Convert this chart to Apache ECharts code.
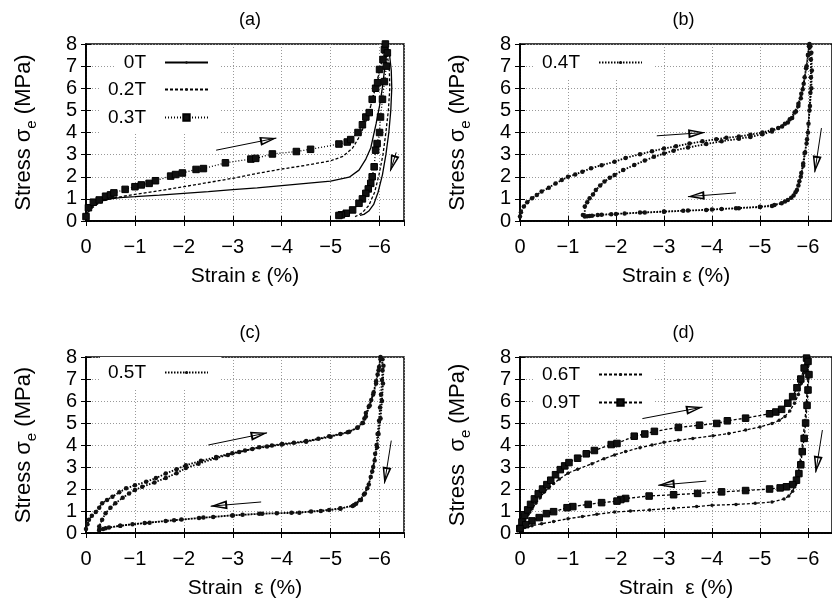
<!DOCTYPE html>
<html>

<head>
    <meta charset="UTF-8" />
    <script src="https://cdn.jsdelivr.net/npm/echarts@6/dist/echarts.min.js"></script>
</head>

<body style="margin: 0; overflow: hidden; background: #fff;">
    <div id="chart" style="width: 832px; height: 606px;"></div>
    <script type="text/javascript">

        // strain (%) / stress (MPa), loading then unloading
        const s0T = [[0, 0.2], [-0.05, 0.45], [-0.12, 0.65], [-0.22, 0.8], [-0.35, 0.92], [-0.5, 1.0], [-0.7, 1.06], [-1, 1.1], [-1.5, 1.17], [-2, 1.25], [-2.5, 1.33], [-3, 1.42], [-3.5, 1.5], [-4, 1.6], [-4.5, 1.7], [-5, 1.8], [-5.38, 1.98], [-5.58, 2.3], [-5.72, 2.8], [-5.82, 3.3], [-5.93, 4.4], [-6.0, 5.2], [-6.05, 5.9], [-6.1, 6.8], [-6.13, 7.4], [-6.15, 8.0],
            [-6.2, 7.6], [-6.24, 6.8], [-6.25, 6.0], [-6.23, 5.0], [-6.19, 4.0], [-6.13, 3.0], [-6.06, 2.1], [-5.97, 1.3], [-5.88, 0.75], [-5.78, 0.45], [-5.68, 0.3], [-5.6, 0.25]];
        const s02T = [[0, 0.2], [-0.08, 0.5], [-0.2, 0.72], [-0.35, 0.9], [-0.55, 1.03], [-0.8, 1.13], [-1, 1.2], [-1.5, 1.37], [-2, 1.55], [-2.5, 1.74], [-3, 1.93], [-3.5, 2.15], [-4, 2.35], [-4.5, 2.52], [-5, 2.72], [-5.25, 2.92], [-5.45, 3.3], [-5.6, 3.85], [-5.72, 4.5], [-5.82, 5.2], [-5.9, 5.9], [-5.98, 6.6], [-6.05, 7.3], [-6.1, 8.0],
            [-6.16, 7.5], [-6.2, 6.8], [-6.21, 6.0], [-6.18, 5.0], [-6.13, 4.0], [-6.07, 3.0], [-5.99, 2.1], [-5.9, 1.3], [-5.78, 0.7], [-5.65, 0.38], [-5.55, 0.25], [-5.5, 0.2]];
        const s03T = [[0, 0.2], [-0.05, 0.6], [-0.15, 0.85], [-0.27, 0.95], [-0.4, 1.12], [-0.5, 1.18], [-0.57, 1.27], [-0.8, 1.43], [-1.0, 1.55], [-1.13, 1.63], [-1.29, 1.7], [-1.42, 1.82], [-1.73, 2.03], [-1.83, 2.1], [-1.97, 2.17], [-2.25, 2.33], [-2.4, 2.37], [-2.85, 2.63], [-3.37, 2.8], [-3.47, 2.83], [-3.81, 3.03], [-4.3, 3.14], [-4.59, 3.24], [-5.17, 3.48], [-5.34, 3.57], [-5.41, 3.68], [-5.56, 4.0], [-5.65, 4.35], [-5.72, 4.7], [-5.79, 4.9], [-5.85, 5.5], [-5.92, 6.0], [-5.96, 6.25], [-6.0, 6.85], [-6.07, 7.3], [-6.1, 7.75], [-6.12, 8.0],
            [-6.16, 7.6], [-6.14, 7.0], [-6.1, 6.3], [-6.06, 5.5], [-6.02, 4.7], [-6.0, 4.0], [-5.95, 3.5], [-5.92, 3.2], [-5.89, 2.45], [-5.85, 2.0], [-5.82, 1.7], [-5.77, 1.45], [-5.72, 1.25], [-5.65, 1.0], [-5.58, 0.8], [-5.45, 0.5], [-5.32, 0.35], [-5.22, 0.28], [-5.17, 0.25]];
        const s04T = [[0, 0.2], [-0.02, 0.4], [-0.08, 0.65], [-0.15, 0.85], [-0.25, 1.03], [-0.35, 1.18], [-0.45, 1.33], [-0.6, 1.5], [-0.74, 1.7], [-0.87, 1.85], [-1, 2.0], [-1.15, 2.1], [-1.3, 2.23], [-1.48, 2.38], [-1.7, 2.52], [-1.97, 2.68], [-2.2, 2.85], [-2.5, 3.02], [-2.75, 3.15], [-3, 3.28], [-3.25, 3.38], [-3.53, 3.5], [-3.8, 3.6], [-4.09, 3.7], [-4.3, 3.76], [-4.56, 3.82], [-4.8, 3.9], [-5.05, 4.0], [-5.25, 4.12], [-5.46, 4.27], [-5.58, 4.45], [-5.67, 4.65], [-5.75, 4.95], [-5.8, 5.2], [-5.85, 5.55], [-5.89, 5.95], [-5.93, 6.5], [-5.97, 7.0], [-6.0, 7.5], [-6.02, 7.9],
            [-6.05, 7.9], [-6.06, 7.3], [-6.06, 6.5], [-6.05, 5.8], [-6.03, 5.0], [-6.0, 4.0], [-5.97, 3.5], [-5.93, 3.07], [-5.9, 2.6], [-5.86, 2.17], [-5.82, 1.8], [-5.77, 1.4], [-5.7, 1.15], [-5.58, 0.95], [-5.45, 0.8], [-5.25, 0.68], [-5.0, 0.63], [-4.56, 0.58], [-4.2, 0.54], [-3.88, 0.5], [-3.4, 0.46], [-3.0, 0.42], [-2.6, 0.38], [-2.18, 0.34], [-1.9, 0.31], [-1.62, 0.27], [-1.45, 0.23], [-1.35, 0.2],
            [-1.31, 0.27], [-1.35, 0.65], [-1.4, 0.85], [-1.45, 1.03], [-1.52, 1.2], [-1.58, 1.4], [-1.67, 1.6], [-1.76, 1.78], [-1.87, 1.95], [-1.97, 2.08], [-2.15, 2.3], [-2.38, 2.53], [-2.6, 2.73], [-2.79, 2.9], [-3.0, 3.05], [-3.2, 3.18], [-3.5, 3.32], [-3.88, 3.48], [-4.2, 3.6], [-4.56, 3.72], [-4.8, 3.8], [-5.05, 3.92], [-5.25, 4.05], [-5.38, 4.2], [-5.52, 4.4], [-5.62, 4.6], [-5.72, 4.9], [-5.8, 5.3], [-5.86, 5.75], [-5.91, 6.2], [-5.96, 6.9], [-6.0, 7.5], [-6.03, 8.0],
            [-6.07, 7.6], [-6.08, 6.8], [-6.07, 6.0], [-6.04, 5.2], [-6.01, 4.4], [-5.98, 3.7], [-5.94, 3.1], [-5.9, 2.5], [-5.85, 2.0], [-5.8, 1.6], [-5.74, 1.3], [-5.65, 1.05], [-5.52, 0.88], [-5.3, 0.72], [-5.0, 0.64], [-4.5, 0.58], [-4.0, 0.52], [-3.5, 0.47], [-3.0, 0.43], [-2.5, 0.38], [-2.0, 0.32], [-1.7, 0.28], [-1.5, 0.24], [-1.4, 0.22]];
        const s05T = [[0, 0.18], [-0.03, 0.4], [-0.06, 0.6], [-0.12, 0.78], [-0.2, 0.95], [-0.27, 1.15], [-0.33, 1.35], [-0.43, 1.5], [-0.54, 1.65], [-0.68, 1.85], [-0.82, 2.03], [-1.0, 2.17], [-1.23, 2.33], [-1.43, 2.5], [-1.63, 2.7], [-1.85, 2.9], [-2.04, 3.08], [-2.35, 3.28], [-2.66, 3.45], [-2.99, 3.63], [-3.25, 3.75], [-3.54, 3.9], [-3.8, 3.98], [-4.01, 4.05], [-4.25, 4.1], [-4.5, 4.18], [-4.75, 4.28], [-4.97, 4.4], [-5.2, 4.5], [-5.38, 4.6], [-5.55, 4.8], [-5.65, 5.0], [-5.69, 5.2], [-5.72, 5.45], [-5.78, 5.75], [-5.83, 6.05], [-5.88, 6.4], [-5.93, 6.8], [-5.96, 7.2], [-5.99, 7.55], [-6.02, 8.0],
            [-6.06, 7.9], [-6.06, 7.4], [-6.05, 6.95], [-6.03, 6.3], [-6.01, 5.7], [-5.99, 5.1], [-5.96, 4.5], [-5.94, 4.0], [-5.91, 3.6], [-5.87, 3.0], [-5.82, 2.55], [-5.75, 2.03], [-5.68, 1.75], [-5.62, 1.5], [-5.52, 1.33], [-5.45, 1.23], [-5.2, 1.12], [-4.97, 1.05], [-4.6, 0.98], [-4.36, 0.92], [-3.9, 0.9], [-3.54, 0.87], [-3.2, 0.83], [-2.99, 0.8], [-2.6, 0.73], [-2.31, 0.68], [-1.95, 0.61], [-1.63, 0.55], [-1.3, 0.47], [-0.95, 0.4], [-0.7, 0.33], [-0.47, 0.25], [-0.35, 0.18], [-0.27, 0.13],
            [-0.27, 0.3], [-0.33, 0.6], [-0.4, 0.9], [-0.5, 1.15], [-0.6, 1.35], [-0.75, 1.6], [-0.88, 1.8], [-1.0, 1.95], [-1.15, 2.1], [-1.4, 2.3], [-1.63, 2.5], [-1.85, 2.72], [-2.04, 2.95], [-2.3, 3.15], [-2.66, 3.4], [-2.9, 3.55], [-3.13, 3.68], [-3.4, 3.82], [-3.7, 3.93], [-4.0, 4.02], [-4.5, 4.15], [-5.0, 4.38], [-5.35, 4.58], [-5.55, 4.78], [-5.66, 5.0], [-5.72, 5.3], [-5.8, 5.8], [-5.87, 6.3], [-5.93, 6.9], [-5.98, 7.4], [-6.02, 7.9],
            [-6.08, 7.6], [-6.07, 6.8], [-6.05, 6.0], [-6.02, 5.2], [-5.98, 4.5], [-5.95, 3.9], [-5.9, 3.3], [-5.85, 2.8], [-5.78, 2.2], [-5.7, 1.8], [-5.6, 1.5], [-5.48, 1.27], [-5.2, 1.1], [-4.8, 1.0], [-4.2, 0.92], [-3.6, 0.88], [-3.0, 0.8], [-2.4, 0.7], [-1.8, 0.58], [-1.2, 0.45], [-0.7, 0.33], [-0.4, 0.22], [-0.27, 0.15]];
        const s06T = [[0, 0.2], [-0.05, 0.4], [-0.1, 0.6], [-0.17, 0.85], [-0.25, 1.1], [-0.33, 1.35], [-0.42, 1.6], [-0.5, 1.85], [-0.6, 2.05], [-0.7, 2.25], [-0.82, 2.45], [-1.0, 2.72], [-1.2, 2.9], [-1.5, 3.15], [-1.75, 3.38], [-1.97, 3.55], [-2.2, 3.7], [-2.5, 3.88], [-2.75, 4.0], [-3.0, 4.12], [-3.3, 4.22], [-3.6, 4.3], [-4.02, 4.42], [-4.35, 4.52], [-4.7, 4.68], [-5.0, 4.82], [-5.25, 4.98], [-5.4, 5.12], [-5.52, 5.3], [-5.62, 5.55], [-5.72, 5.9], [-5.8, 6.3], [-5.86, 6.8], [-5.92, 7.3], [-5.97, 7.85],
            [-6.0, 7.6], [-6.0, 7.0], [-5.98, 6.4], [-5.96, 5.7], [-5.93, 5.0], [-5.9, 4.4], [-5.87, 3.8], [-5.83, 3.2], [-5.79, 2.6], [-5.74, 2.2], [-5.68, 1.9], [-5.6, 1.68], [-5.5, 1.55], [-5.25, 1.41], [-4.9, 1.35], [-4.5, 1.3], [-4.0, 1.26], [-3.68, 1.2], [-3.2, 1.13], [-2.7, 1.05], [-2.3, 1.0], [-1.97, 0.95], [-1.6, 0.85], [-1.3, 0.75], [-1.0, 0.65], [-0.7, 0.52], [-0.45, 0.42], [-0.25, 0.33], [-0.1, 0.25], [0, 0.2]];
        const s09T = [[0, 0.2], [-0.04, 0.5], [-0.1, 0.8], [-0.16, 1.05], [-0.22, 1.3], [-0.3, 1.55], [-0.38, 1.78], [-0.47, 2.0], [-0.56, 2.2], [-0.64, 2.4], [-0.74, 2.65], [-0.84, 2.88], [-0.93, 3.05], [-1.02, 3.2], [-1.2, 3.4], [-1.38, 3.6], [-1.55, 3.75], [-1.9, 4.02], [-2.02, 4.07], [-2.38, 4.4], [-2.6, 4.5], [-2.8, 4.62], [-3.3, 4.8], [-3.74, 4.9], [-4.1, 4.98], [-4.32, 5.1], [-4.7, 5.22], [-5.2, 5.42], [-5.33, 5.5], [-5.45, 5.62], [-5.58, 5.9], [-5.68, 6.2], [-5.77, 6.6], [-5.85, 7.0], [-5.92, 7.5], [-5.97, 7.95],
            [-6.0, 7.8], [-6.02, 7.2], [-6.0, 6.5], [-5.98, 5.8], [-5.95, 5.0], [-5.92, 4.3], [-5.88, 3.7], [-5.85, 3.1], [-5.81, 2.7], [-5.76, 2.4], [-5.68, 2.2], [-5.55, 2.1], [-5.42, 2.05], [-5.2, 2.0], [-4.7, 1.93], [-4.2, 1.87], [-3.7, 1.8], [-3.2, 1.74], [-2.69, 1.68], [-2.2, 1.57], [-2.1, 1.52], [-2.02, 1.45], [-1.7, 1.38], [-1.42, 1.3], [-1.1, 1.2], [-0.98, 1.15], [-0.7, 0.97], [-0.55, 0.88], [-0.4, 0.7], [-0.25, 0.55], [-0.12, 0.38], [0, 0.2]];

        // annotation arrows, [from, to] in data units
        const arrowsA = [[[-2.66, 3.2], [-3.89, 3.75]], [[-6.34, 3.1], [-6.22, 2.25]]];
        const arrowsB = [[[-2.85, 3.85], [-3.85, 4.0]], [[-4.5, 1.27], [-3.5, 1.1]], [[-6.28, 4.2], [-6.14, 2.2]]];
        const arrowsC = [[[-2.5, 4.0], [-3.7, 4.55]], [[-3.58, 1.41], [-2.55, 1.22]], [[-6.24, 4.2], [-6.1, 2.25]]];
        const arrowsD = [[[-2.55, 5.2], [-3.8, 5.72]], [[-3.88, 2.36], [-2.88, 2.17]], [[-6.3, 4.68], [-6.16, 2.75]]];

        const panelTitles = ['(a)', '(b)', '(c)', '(d)'];
        const xNames = ['Strain ε (%)', 'Strain ε (%)', 'Strain  ε (%)', 'Strain  ε (%)'];
        const yNames = ['{t|Stress σ}{s|e}{t| (MPa)}', '{t|Stress σ}{s|e}{t| (MPa)}', '{t|Stress σ}{s|e}{t| (MPa)}', '{t|Stress  σ}{s|e}{t| (MPa)}'];

        const FONT = 'Liberation Sans';
        const grids = [
            { left: 86, top: 44, width: 318, height: 177 },
            { left: 520, top: 44, width: 317, height: 177 },
            { left: 86, top: 357, width: 318, height: 176 },
            { left: 520, top: 357, width: 317, height: 176 }
        ];

        const arrowHead = 'path://M5,0 L10,17 L0,17 Z M5,5 L2.4,15 L7.6,15 Z';

        function arrowMarks(list) {
            return {
                silent: true,
                animation: false,
                label: { show: false },
                lineStyle: { color: '#000', width: 1, type: 'solid' },
                emphasis: { disabled: true },
                data: list.map(a => [
                    { coord: a[0], symbol: 'none' },
                    { coord: a[1], symbol: arrowHead, symbolSize: [9, 17], symbolOffset: [0, 8] }
                ])
            };
        }

        function series(name, data, p, dash, width, symbol, size, showSym) {
            return {
                name: name,
                type: 'line',
                data: data,
                xAxisIndex: p * 2,
                yAxisIndex: p * 2,
                symbol: symbol,
                symbolSize: size,
                showSymbol: showSym,
                lineStyle: { color: '#000', width: width, type: dash },
                itemStyle: { color: '#111', borderColor: '#000', borderWidth: symbol === 'rect' ? 1 : 0 },
                emphasis: { disabled: true },
                animation: false
            };
        }

        function legend(name, iconRight, rowY, symH) {
            return {
                data: [name],
                orient: 'vertical',
                align: 'right',
                right: 832 - iconRight - 12,
                top: rowY - 16,
                padding: [6, 12, 6, 8],
                backgroundColor: '#fff',
                itemWidth: 43,
                itemHeight: symH,
                selectedMode: false,
                textStyle: { fontFamily: FONT, fontSize: 19, color: '#000', width: 54, align: 'right', padding: [0, 14, 0, 0] }
            };
        }

        const xAxes = [], yAxes = [], titles = [];
        grids.forEach((g, p) => {
            titles.push({
                text: panelTitles[p], left: g.left + g.width / 2, top: g.top - 38, textAlign: 'center',
                textStyle: { fontFamily: FONT, fontSize: 18, fontWeight: 'normal', color: '#000' }
            });
            xAxes.push({
                type: 'value', gridIndex: p, position: 'bottom', inverse: true, min: -6.5, max: 0, splitNumber: 6,
                name: xNames[p], nameLocation: 'middle', nameGap: 45,
                nameTextStyle: { fontFamily: FONT, fontSize: 21, color: '#000' },
                axisLine: { lineStyle: { color: '#000', width: 1.5 } },
                axisTick: { inside: true, length: 5, lineStyle: { color: '#000' } },
                axisLabel: {
                    showMinLabel: false, margin: 16, fontFamily: FONT, fontSize: 20, color: '#000',
                    formatter: v => (v % 1 !== 0 ? '' : v === 0 ? '0' : '−' + Math.abs(v))
                },
                splitLine: { show: true, lineStyle: { color: '#999', type: [1, 2], width: 1 } }
            });
            xAxes.push({
                type: 'value', gridIndex: p, position: 'top', inverse: true, min: -6.5, max: 0, splitNumber: 6,
                axisLine: { lineStyle: { color: '#000', width: 1.5 } },
                axisTick: { inside: true, length: 5, lineStyle: { color: '#000' } },
                axisLabel: { show: false }, splitLine: { show: false }
            });
            yAxes.push({
                type: 'value', gridIndex: p, position: 'left', min: 0, max: 8, interval: 1,
                name: yNames[p], nameLocation: 'middle', nameGap: 47,
                nameTextStyle: {
                    color: '#000',
                    rich: {
                        t: { fontFamily: FONT, fontSize: 22, color: '#000', lineHeight: 30 },
                        s: { fontFamily: FONT, fontSize: 15, color: '#000', lineHeight: 16, verticalAlign: 'bottom' }
                    }
                },
                axisLine: { lineStyle: { color: '#000', width: 1.5 } },
                axisTick: { inside: true, length: 5, lineStyle: { color: '#000' } },
                axisLabel: { margin: 9, fontFamily: FONT, fontSize: 20, color: '#000' },
                splitLine: { show: true, lineStyle: { color: '#999', type: [1, 2], width: 1 } }
            });
            yAxes.push({
                type: 'value', gridIndex: p, position: 'right', min: 0, max: 8, interval: 1,
                axisLine: { lineStyle: { color: '#000', width: 1.5 } },
                axisTick: { inside: true, length: 5, lineStyle: { color: '#000' } },
                axisLabel: { show: false }, splitLine: { show: false }
            });
        });

        const allSeries = [
            series('0T', s0T, 0, 'solid', 1.3, 'circle', 2, false),
            series('0.2T', s02T, 0, [3, 2], 1.3, 'circle', 2, false),
            series('0.3T', s03T, 0, [1, 2], 1.3, 'rect', 6.5, true),
            series('0.4T', s04T, 1, [1.5, 1.5], 1.8, 'circle', 4.5, true),
            series('0.5T', s05T, 2, [1.5, 1.5], 1.8, 'circle', 4.5, true),
            series('0.6T', s06T, 3, [3, 2], 1.3, 'circle', 3.5, true),
            series('0.9T', s09T, 3, [3, 2], 1.3, 'rect', 6.5, true)
        ];
        allSeries[0].markLine = arrowMarks(arrowsA);
        allSeries[3].markLine = arrowMarks(arrowsB);
        allSeries[4].markLine = arrowMarks(arrowsC);
        allSeries[5].markLine = arrowMarks(arrowsD);

        const myChart = echarts.init(document.getElementById('chart'));
        myChart.setOption({
            backgroundColor: '#fff',
            animation: false,
            title: titles,
            grid: grids.map(g => Object.assign({ show: true, borderColor: '#000', borderWidth: 1.5, containLabel: false }, g)),
            xAxis: xAxes,
            yAxis: yAxes,
            legend: [
                legend('0T', 209, 63, 3),
                legend('0.2T', 209, 90, 3),
                legend('0.3T', 209, 118, 8),
                legend('0.4T', 643, 63, 4),
                legend('0.5T', 209, 373, 4),
                legend('0.6T', 643, 375, 4),
                legend('0.9T', 643, 403, 8)
            ],
            series: allSeries
        });

    </script>
</body>

</html>
